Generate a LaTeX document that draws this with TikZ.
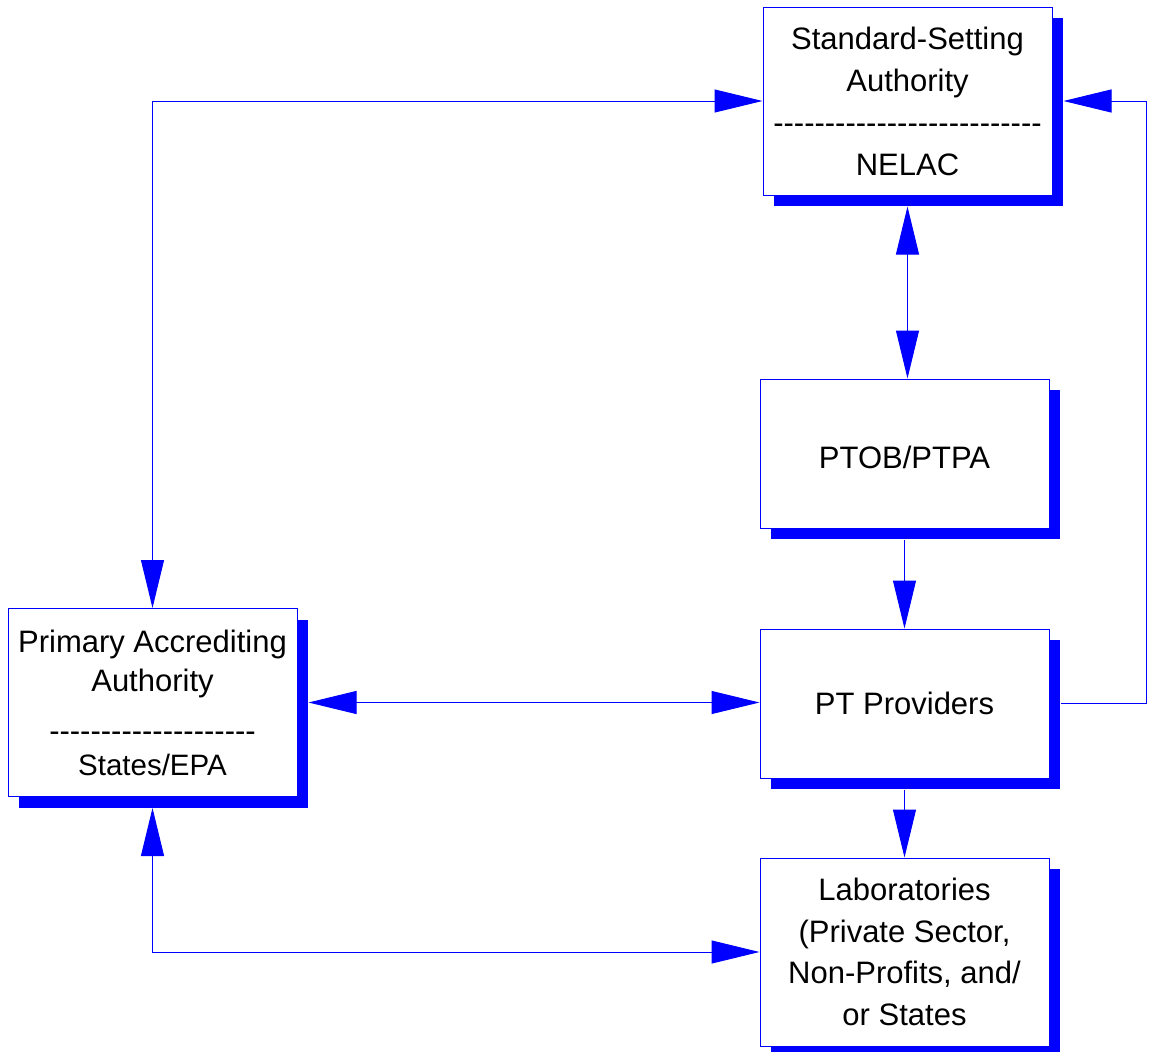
\documentclass[tikz,border=0pt]{standalone}
\usepackage{fontspec}
\setmainfont{Liberation Sans}
\usetikzlibrary{arrows.meta,shadows,calc}
\newcommand\hy{\hbox{-}}
\newcommand\dashrow[1]{\foreach \k in {1,...,#1}{\hy}}
\begin{document}
\begin{tikzpicture}[x=1pt,y=-1pt,
  box/.style={draw=blue, line width=1pt, fill=white, inner sep=0pt, align=center,
    minimum width=289pt, text=black,
    drop shadow={shadow xshift=11pt, shadow yshift=-11pt, fill=blue, draw=none, opacity=1},
    font=\fontsize{31}{42}\selectfont},
  tall/.style={minimum height=188pt},
  short/.style={minimum height=149pt},
  conn/.style={draw=blue, line width=1pt},
  uni/.style={conn, -{Triangle[length=48pt,width=23pt]}},
  bidir/.style={conn, {Triangle[length=48pt,width=23pt]}-{Triangle[length=48pt,width=23pt]}}]
\useasboundingbox[fill=white] (0,0) rectangle (1152,1052);

\node[box,tall] (std) at (907.5,101) {Standard-Setting\\Authority\\\dashrow{26}\\NELAC};
\node[box,short] (ptob) at (904.5,453.5) {\raisebox{-4pt}[\height][\depth]{PTOB/PTPA}};
\node[box,short] (pt) at (904.5,703.5) {PT Providers};
\node[box,tall,font=\fontsize{31}{41.7}\selectfont] (lab) at (904.5,952) {Laboratories\\(Private Sector,\\Non-Profits, and/\\or States};
\node[box,tall,font=\fontsize{31}{39}\selectfont] (pri) at (152.5,702.5) {Primary Accrediting\\Authority\\[11pt]\dashrow{20}\\[-5pt]{\fontsize{29.5}{39}\selectfont States/EPA}};

\coordinate (stdb) at ($(std.south)+(0,11)$);
\coordinate (stde) at ($(std.east)+(11,0)$);
\coordinate (ptobb) at ($(ptob.south)+(0,11)$);
\coordinate (ptb) at ($(pt.south)+(0,11)$);
\coordinate (pte) at ($(pt.east)+(11,0)$);
\coordinate (prie) at ($(pri.east)+(11,0)$);
\coordinate (prib) at ($(pri.south)+(0,11)$);
\coordinate (rail) at (1146,101);

\draw[bidir] (pri.north) |- (std.west);
\draw[bidir] (stdb) -- (stdb |- ptob.north);
\draw[uni] (ptobb) -- (pt.north);
\draw[uni] (ptb) -- (lab.north);
\draw[bidir] (prie) -- (prie -| pt.west);
\draw[bidir] (prib) |- (lab.west);
\draw[uni] (pte) -| (rail) -- (stde);
\end{tikzpicture}
\end{document}
